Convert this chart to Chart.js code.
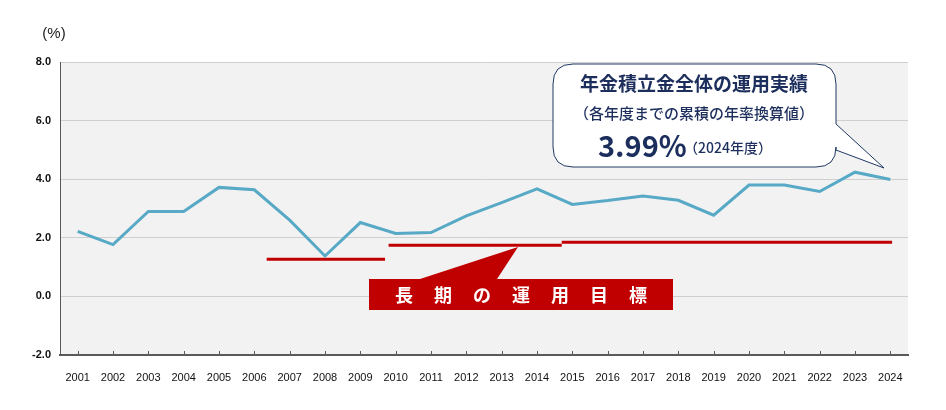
<!DOCTYPE html>
<html>
<head>
<meta charset="utf-8">
<script src="https://cdn.jsdelivr.net/npm/chart.js@4.4.1/dist/chart.umd.min.js"></script>
<style>
  html, body { margin: 0; padding: 0; background: #ffffff; }
  #wrap { width: 946px; height: 410px; position: relative; }
</style>
</head>
<body>
<div id="wrap"><canvas id="grafico"></canvas></div>
<script>
// 年度（カテゴリ）
const anos = ['2001', '2002', '2003', '2004', '2005', '2006', '2007', '2008', '2009', '2010', '2011', '2012',
              '2013', '2014', '2015', '2016', '2017', '2018', '2019', '2020', '2021', '2022', '2023', '2024'];

// 累積の年率換算値 (%)
const rendimento = [2.22, 1.77, 2.90, 2.90, 3.72, 3.64, 2.60, 1.38, 2.52, 2.15, 2.18, 2.75,
                    3.20, 3.67, 3.14, 3.27, 3.43, 3.28, 2.77, 3.80, 3.80, 3.58, 4.24, 3.99];

// 長期の運用目標 (期間の始まり・終わり・値)
const metaInicio = [2006.35, 2009.8, 2014.7];
const metaFim = [2009.7, 2014.7, 2024.05];
const metaValor = [1.27, 1.75, 1.85];

// 縦軸の目盛り
const yMin = -2;
const yMax = 8;
const yPasso = 2;

// 目標線のデータ（区間の間は null で切る）
const metaPontos = [];
metaValor.forEach((v, i) => {
    metaPontos.push({ x: metaInicio[i], y: v });
    metaPontos.push({ x: metaFim[i], y: v });
    metaPontos.push({ x: metaFim[i], y: null });
});

const fonteEixo = "'Liberation Sans', Arial, sans-serif";
const fonteJp = "'Noto Sans CJK JP', 'Noto Sans', sans-serif";

// 背景・注釈を描くプラグイン
const desenhos = {
    id: 'desenhos',
    beforeDraw(chart) {
        const { ctx, chartArea } = chart;
        ctx.save();
        ctx.fillStyle = '#f2f2f2';
        ctx.fillRect(chartArea.left, chartArea.top, chartArea.right - chartArea.left, chartArea.bottom - chartArea.top);
        ctx.restore();
    },
    afterDraw(chart) {
        const { ctx, chartArea, scales } = chart;
        ctx.save();

        // (%)
        ctx.fillStyle = '#222';
        ctx.font = '15px ' + fonteEixo;
        ctx.textAlign = 'center';
        ctx.textBaseline = 'middle';
        ctx.fillText('(%)', 54, 34);

        // 目盛りの小さな線
        ctx.strokeStyle = '#595959';
        ctx.lineWidth = 1;
        anos.forEach((a, i) => {
            const x = Math.round(scales.x.getPixelForValue(i)) + 0.5;
            ctx.beginPath();
            ctx.moveTo(x, chartArea.bottom);
            ctx.lineTo(x, chartArea.bottom - 4);
            ctx.stroke();
        });

        // 吹き出し
        const bx = 553, by = 64, bw = 283, bh = 103, r = 20;
        ctx.beginPath();
        ctx.moveTo(bx + r, by);
        ctx.lineTo(bx + bw - r, by);
        ctx.quadraticCurveTo(bx + bw, by, bx + bw, by + r);
        ctx.lineTo(bx + bw, by + 60);
        ctx.lineTo(884, 168);
        ctx.lineTo(bx + bw, by + 86);
        ctx.lineTo(bx + bw, by + bh - r);
        ctx.quadraticCurveTo(bx + bw, by + bh, bx + bw - r, by + bh);
        ctx.lineTo(bx + r, by + bh);
        ctx.quadraticCurveTo(bx, by + bh, bx, by + bh - r);
        ctx.lineTo(bx, by + r);
        ctx.quadraticCurveTo(bx, by, bx + r, by);
        ctx.closePath();
        ctx.fillStyle = '#ffffff';
        ctx.fill();
        ctx.strokeStyle = '#1f3864';
        ctx.lineWidth = 1;
        ctx.stroke();

        ctx.fillStyle = '#1c2e5c';
        ctx.textAlign = 'center';
        ctx.font = 'bold 19px ' + fonteJp;
        ctx.fillText('年金積立金全体の運用実績', 694, 84);
        ctx.font = '500 15px ' + fonteJp;
        ctx.fillText('（各年度までの累積の年率換算値）', 694, 113);
        ctx.textAlign = 'left';
        ctx.font = 'bold 29px ' + fonteJp;
        ctx.fillText('3.99%', 598, 146);
        ctx.font = '500 14px ' + fonteJp;
        ctx.fillText('（2024年度）', 684, 148);

        // 長期の運用目標
        ctx.fillStyle = '#c00000';
        ctx.beginPath();
        ctx.moveTo(420, 279);
        ctx.lineTo(518, 247);
        ctx.lineTo(497, 279);
        ctx.closePath();
        ctx.fill();
        ctx.fillRect(369, 279, 304, 31);
        ctx.fillStyle = '#ffffff';
        ctx.font = 'bold 18px ' + fonteJp;
        ctx.textAlign = 'center';
        const letras = ['長', '期', 'の', '運', '用', '目', '標'];
        letras.forEach((c, i) => {
            ctx.fillText(c, 404 + i * 39, 295);
        });

        ctx.restore();
    }
};

new Chart(document.getElementById('grafico'), {
    type: 'line',
    data: {
        labels: anos,
        datasets: [{
            label: '運用実績',
            data: rendimento,
            borderColor: '#57a9c6',
            borderWidth: 3,
            pointRadius: 0,
            tension: 0,
            order: 1
        }, {
            label: '長期の運用目標',
            data: metaPontos,
            xAxisID: 'xMeta',
            borderColor: '#c00000',
            borderWidth: 3,
            pointRadius: 0,
            spanGaps: false,
            order: 2
        }]
    },
    options: {
        responsive: true,
        maintainAspectRatio: false,
        animation: false,
        layout: { padding: { top: 62, right: 38, left: 0, bottom: 0 } },
        plugins: {
            legend: { display: false },
            tooltip: { enabled: false }
        },
        scales: {
            x: {
                offset: true,
                grid: { display: false },
                border: { color: '#595959', width: 2 },
                ticks: {
                    color: '#111',
                    font: { family: fonteEixo, size: 11 },
                    padding: 8,
                    maxRotation: 0,
                    autoSkip: false
                },
                afterFit(scale) { scale.height = 55; }
            },
            xMeta: {
                type: 'linear',
                display: false,
                min: 2000.5,
                max: 2024.5
            },
            y: {
                min: yMin,
                max: yMax,
                ticks: {
                    stepSize: yPasso,
                    color: '#111',
                    font: { family: fonteEixo, size: 11, weight: 'bold' },
                    padding: 9,
                    callback: v => v.toFixed(1)
                },
                grid: { color: '#cfcfcf', drawTicks: false, lineWidth: 1 },
                border: { color: '#595959', width: 1 },
                afterFit(scale) { scale.width = 60; }
            }
        }
    },
    plugins: [desenhos]
});
</script>
</body>
</html>
